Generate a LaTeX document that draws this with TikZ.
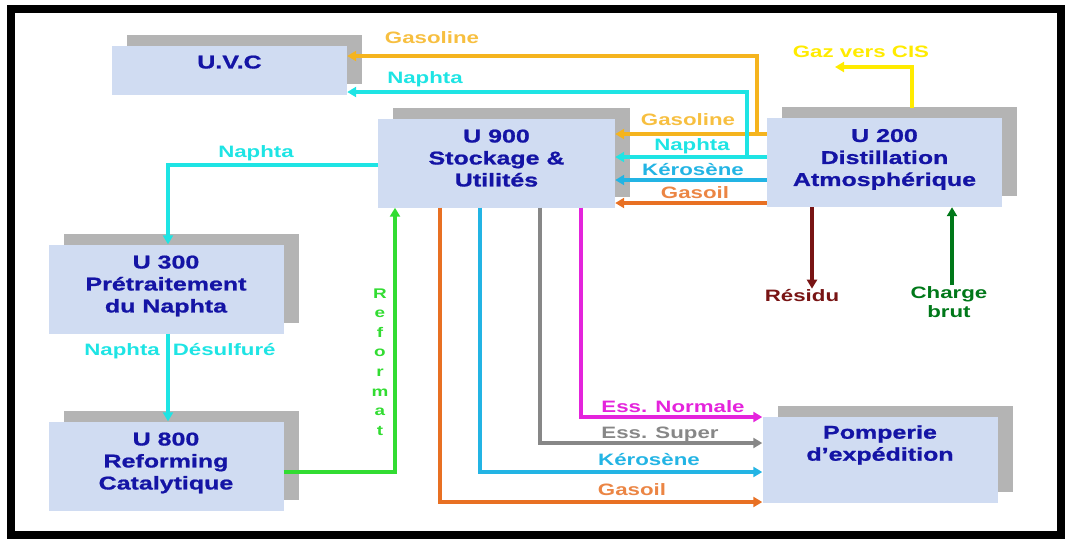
\documentclass[tikz,border=0pt]{standalone}
\usepackage{fontspec}
\newfontfamily\diagfont{Liberation Sans}[FakeStretch=1.35]
\newfontfamily\unitfont{Liberation Sans Bold}[FakeStretch=1.35, FakeBold=1]
\usetikzlibrary{arrows.meta,shadows,calc}

\definecolor{boxfill}{RGB}{208,220,242}
\definecolor{boxshadow}{RGB}{180,180,180}
\definecolor{boxtext}{RGB}{20,20,165}
\definecolor{gasoline}{RGB}{245,180,30}
\definecolor{naphta}{RGB}{30,228,228}
\definecolor{kerosene}{RGB}{35,180,228}
\definecolor{gasoil}{RGB}{232,112,35}
\definecolor{gaz}{RGB}{255,235,0}
\definecolor{reformat}{RGB}{50,220,50}
\definecolor{essnormale}{RGB}{228,35,220}
\definecolor{esssuper}{RGB}{135,135,135}
\definecolor{residu}{RGB}{120,20,20}
\definecolor{charge}{RGB}{0,120,25}

\begin{document}
\begin{tikzpicture}[x=1pt, y=-1pt,
    unit/.style={fill=boxfill, minimum width=235pt, minimum height=89pt, inner sep=0pt, align=center,
        text=boxtext, font=\unitfont\fontsize{18.5}{22}\selectfont, text depth=10pt,
        drop shadow={shadow xshift=15pt, shadow yshift=11pt, fill=boxshadow, opacity=1}},
    flow/.style={-{Triangle[length=9pt, width=10pt]}, line width=3.5pt},
    lbl/.style={inner sep=1pt, align=center, font=\diagfont\bfseries\fontsize{16.5}{19}\selectfont}
]
\useasboundingbox (0,0) rectangle (1066,542);
\draw[line width=8pt] (11,9) rectangle (1061,535);

% units
\node[unit, minimum height=49pt, text depth=17pt] (uvc) at (229.5,70.5) {U.V.C};
\node[unit, minimum width=237pt] (u900) at (496.5,163) {U 900\\Stockage \&\\Utilités};
\node[unit] (u200) at (884.5,162.5) {U 200\\Distillation\\Atmosphérique};
\node[unit] (u300) at (166,289) {U 300\\Prétraitement\\du Naphta};
\node[unit] (u800) at (166,466) {U 800\\Reforming\\Catalytique};
\node[unit, minimum height=86pt, text depth=34pt] (pomp) at (880,460) {Pomperie\\d’expédition};

% labels
\node[lbl, text=gasoline!85] (gasuvc) at (432,38) {Gasoline};
\node[lbl, text=naphta] (naphuvc) at (425,79) {Naphta};
\node[lbl, text=gasoline!85] (gas900) at (688,120) {Gasoline};
\node[lbl, text=naphta] (naph900) at (692,146) {Naphta};
\node[lbl, text=kerosene] (kero900) at (693,170) {Kérosène};
\node[lbl, text=gasoil!85] (gasoil900) at (695,193) {Gasoil};
\node[lbl, text=gaz] (gazcis) at (861,52) {Gaz vers CIS};
\node[lbl, text=naphta] (naph300) at (256,153) {Naphta};
\node[lbl, text=naphta] (desulf) at (180,351) {Naphta\hspace{13pt}Désulfuré};
\node[lbl, text=reformat, font=\diagfont\bfseries\fontsize{14}{19.6}\selectfont] (reflbl) at (380,362) {R\\e\\f\\o\\r\\m\\a\\t};
\node[lbl, text=essnormale] (essn) at (673,407) {Ess. Normale};
\node[lbl, text=esssuper] (esss) at (660,434) {Ess. Super};
\node[lbl, text=kerosene] (keropomp) at (649,460) {Kérosène};
\node[lbl, text=gasoil!85] (gasoilpomp) at (632,490) {Gasoil};
\node[lbl, text=residu] (residulbl) at (802,296) {Résidu};
\node[lbl, text=charge] (chargelbl) at (949,302) {Charge\\brut};

% U 200 -> U 900 / U.V.C
\coordinate (gasjct) at (757,134);
\coordinate (naphjct) at (747,157);
\coordinate (gazend) at (835,67);
\draw[flow, gasoline] (u200.west |- 0,134) -- (u900.east |- 0,134);
\draw[flow, naphta] (u200.west |- 0,157) -- (u900.east |- 0,157);
\draw[flow, kerosene] (u200.west |- 0,180) -- (u900.east |- 0,180);
\draw[flow, gasoil] (u200.west |- 0,203) -- (u900.east |- 0,203);
\draw[flow, gasoline] (gasjct) |- (uvc.east |- 0,56);
\draw[flow, naphta] (naphjct) |- (uvc.east |- 0,92);
\draw[flow, gaz] ($(u200.north -| 912,0)+(0,-10)$) |- (gazend);
\draw[flow, residu] (u200.south -| 812,0) -- (residulbl.north -| 812,0);
\draw[flow, charge] (chargelbl.north -| 952,0) -- (u200.south -| 952,0);

% U 900 -> U 300 -> U 800 -> U 900
\draw[flow, naphta] (u900.west |- 0,165) -| (u300.north -| 168,0);
\draw[flow, naphta] (u300.south -| 168,0) -- (u800.north -| 168,0);
\draw[flow, reformat] (u800.east |- 0,472) -| (u900.south -| 395,0);

% U 900 -> Pomperie
\draw[flow, essnormale] (u900.south -| 581,0) |- (pomp.west |- 0,417);
\draw[flow, esssuper] (u900.south -| 540,0) |- (pomp.west |- 0,443);
\draw[flow, kerosene] (u900.south -| 480,0) |- (pomp.west |- 0,472);
\draw[flow, gasoil] (u900.south -| 440,0) |- (pomp.west |- 0,502);
\end{tikzpicture}
\end{document}
